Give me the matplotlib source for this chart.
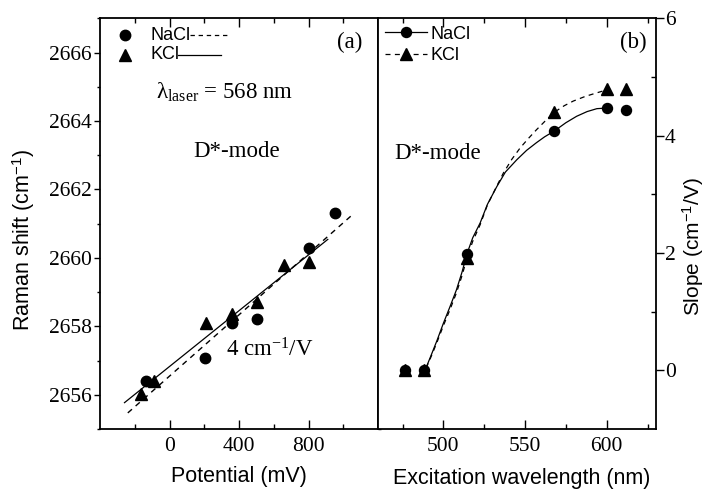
import matplotlib
matplotlib.use("Agg")
import matplotlib.pyplot as plt
from matplotlib.ticker import MultipleLocator, FixedLocator
from matplotlib.lines import Line2D

plt.rcParams['font.family'] = 'Liberation Serif'
plt.rcParams['mathtext.fontset'] = 'custom'
plt.rcParams['mathtext.rm'] = 'Liberation Serif'
plt.rcParams['mathtext.it'] = 'Liberation Serif:italic'
plt.rcParams['mathtext.sf'] = 'Liberation Sans'

# (a) Raman shift vs potential, lambda = 568 nm
nacl_pot = [-134, 207, 359, 505, 802, 954]
nacl_shift = [2656.39, 2657.06, 2658.10, 2658.21, 2660.30, 2661.30]
kcl_pot = [-163, -92, 211, 359, 505, 658, 802]
kcl_shift = [2656.03, 2656.39, 2658.10, 2658.37, 2658.72, 2659.79, 2659.87]
# linear fits as drawn in the figure (end points)
nacl_fit_x = [-240, 1046]
nacl_fit_y = [2655.47, 2661.23]
kcl_fit_x = [-259, 911]
kcl_fit_y = [2655.77, 2660.54]

# (b) slope vs excitation wavelength
wl = [476.5, 488, 514.5, 568, 600, 612]
nacl_slope = [0, 0, 1.99, 4.08, 4.47, 4.43]
kcl_slope = [0, 0, 1.92, 4.40, 4.80, 4.80]
# smooth guide curves
nacl_curve_x = [489.5, 492, 496, 500, 504, 508, 511.5, 514.5, 518, 522.5, 527, 532.7,
                538, 545, 551, 557, 562, 568, 575, 581.6, 588, 594, 600]
nacl_curve_y = [0.05, 0.22, 0.50, 0.80, 1.08, 1.37, 1.68, 1.99, 2.26, 2.51, 2.83, 3.13,
                3.38, 3.59, 3.75, 3.88, 3.98, 4.08, 4.22, 4.33, 4.41, 4.46, 4.47]
kcl_curve_x = [489.5, 492, 496, 500, 504, 508, 511.5, 514.5, 518, 522.5, 527, 532.7,
               536.7, 542, 547, 552, 557, 562, 568, 574, 579.6, 587, 594, 600]
kcl_curve_y = [0.04, 0.20, 0.47, 0.76, 1.03, 1.32, 1.62, 1.92, 2.20, 2.48, 2.82, 3.14,
               3.36, 3.60, 3.79, 3.95, 4.10, 4.24, 4.40, 4.51, 4.59, 4.67, 4.73, 4.78]

fig = plt.figure(figsize=(7.07, 4.91), dpi=100)
ax1 = fig.add_axes([100 / 707, 62 / 491, 278 / 707, 410.7 / 491])
ax2 = fig.add_axes([378 / 707, 62 / 491, 277.7 / 707, 410.7 / 491])

for ax in (ax1, ax2):
    for s in ax.spines.values():
        s.set_linewidth(1.3)

# ---- panel (a)
ax1.plot(nacl_fit_x, nacl_fit_y, color='black', lw=1.0, ls=(0, (4, 3.5)))
ax1.plot(kcl_fit_x, kcl_fit_y, color='black', lw=0.9)
ax1.plot(nacl_pot, nacl_shift, 'o', color='black', ms=7.5, ls='none')
ax1.plot(kcl_pot, kcl_shift, '^', color='black', ms=8.5, ls='none')

ax1.set_xlim(-400, 1200)
ax1.set_ylim(2655, 2667)
ax1.xaxis.set_major_locator(FixedLocator([0, 400, 800]))
ax1.xaxis.set_minor_locator(FixedLocator([-200, 200, 600, 1000]))
ax1.yaxis.set_major_locator(MultipleLocator(2))
ax1.yaxis.set_minor_locator(MultipleLocator(1))
ax1.tick_params(axis='x', which='major', direction='in', length=6.5, width=1.0,
                labelsize=15.5, pad=6, top=True)
ax1.tick_params(axis='x', which='minor', direction='in', length=3.5, width=1.0, top=True)
ax1.tick_params(axis='y', which='major', direction='out', length=4, width=1.0,
                labelsize=15.5, pad=2, right=True)
ax1.tick_params(axis='y', which='minor', direction='out', length=2.5, width=1.0, right=True)

ax1.set_xlabel('Potential (mV)', family='Liberation Sans', fontsize=15.5, va='top')
ax1.xaxis.set_label_coords(0.5, -0.09)
ax1.set_ylabel(r'Raman shift (cm$^{\mathsf{-1}}$)', family='Liberation Sans', fontsize=15.5)
ax1.yaxis.set_label_coords(-0.228, 0.46)

ax1.text(1036, 2666.3, '(a)', fontsize=16.5, ha='center', va='center')
ax1.text(-75, 2664.84, r'λ$_{\rm laser}$ = 568 nm', fontsize=16.5, ha='left', va='center')
ax1.text(138, 2663.11, 'D*-mode', fontsize=16.5, ha='left', va='center')
ax1.text(326, 2657.3, r'4 cm$^{-1}$/V', fontsize=16.5, ha='left', va='center')

# hand-made legend: marker, label, then line sample
ax1.plot([0.09], [0.959], 'o', color='black', ms=7.5, transform=ax1.transAxes, clip_on=False)
ax1.plot([0.09], [0.911], '^', color='black', ms=8.5, transform=ax1.transAxes, clip_on=False)
ax1.text(0.18, 0.959, 'NaCl', family='Liberation Sans', fontsize=13, va='center',
         transform=ax1.transAxes)
ax1.text(0.18, 0.911, 'KCl', family='Liberation Sans', fontsize=13, va='center',
         transform=ax1.transAxes)
ax1.plot([0.325, 0.456], [0.959, 0.959], color='black', lw=0.9, ls=(0, (3.5, 3)),
         transform=ax1.transAxes)
ax1.plot([0.282, 0.436], [0.911, 0.911], color='black', lw=0.9, transform=ax1.transAxes)

# ---- panel (b)
ax2.plot(nacl_curve_x, nacl_curve_y, color='black', lw=0.9)
ax2.plot(kcl_curve_x, kcl_curve_y, color='black', lw=0.9, ls=(0, (4, 3.5)))
ax2.plot(wl, nacl_slope, 'o', color='black', ms=7.2, ls='none')
ax2.plot(wl, kcl_slope, '^', color='black', ms=8.3, ls='none')

ax2.set_xlim(460, 630)
ax2.set_ylim(-1, 6)
ax2.xaxis.set_major_locator(FixedLocator([500, 550, 600]))
ax2.xaxis.set_minor_locator(FixedLocator([475, 525, 575, 625]))
ax2.yaxis.set_major_locator(FixedLocator([0, 2, 4, 6]))
ax2.yaxis.set_minor_locator(FixedLocator([1, 3, 5]))
ax2.yaxis.tick_right()
ax2.yaxis.set_label_position('right')
ax2.tick_params(axis='x', which='major', direction='in', length=6.5, width=1.0,
                labelsize=15.5, pad=6, top=True)
ax2.tick_params(axis='x', which='minor', direction='in', length=3.5, width=1.0, top=True)
ax2.tick_params(axis='y', which='major', direction='out', length=5.5, width=1.0,
                labelsize=15.5, pad=1, left=False, right=True)
ax2.tick_params(axis='y', which='minor', direction='in', length=3.5, width=1.0,
                left=False, right=True)

ax2.set_xlabel('Excitation wavelength (nm)', family='Liberation Sans', fontsize=15.5, va='top')
ax2.xaxis.set_label_coords(0.517, -0.095)
ax2.set_ylabel(r'Slope (cm$^{\mathsf{-1}}$/V)', family='Liberation Sans', fontsize=15)
ax2.yaxis.set_label_coords(1.09, 0.444)

ax2.text(616, 5.58, '(b)', fontsize=16.5, ha='center', va='center')
ax2.text(469.8, 3.70, 'D*-mode', fontsize=16.5, ha='left', va='center')

h_nacl = Line2D([], [], color='black', lw=0.9, marker='o', ms=7.2)
h_kcl = Line2D([], [], color='black', lw=0.9, ls=(0, (4, 3.5)), marker='^', ms=8.3)
ax2.legend([h_nacl, h_kcl], ['NaCl', 'KCl'], frameon=False, loc='upper left',
           bbox_to_anchor=(0.0, 1.0), prop={'family': 'Liberation Sans', 'size': 13},
           handlelength=2.3, handletextpad=0.2, labelspacing=0.25,
           borderaxespad=0.2, borderpad=0.2)

fig.savefig('out.png', dpi=100)
